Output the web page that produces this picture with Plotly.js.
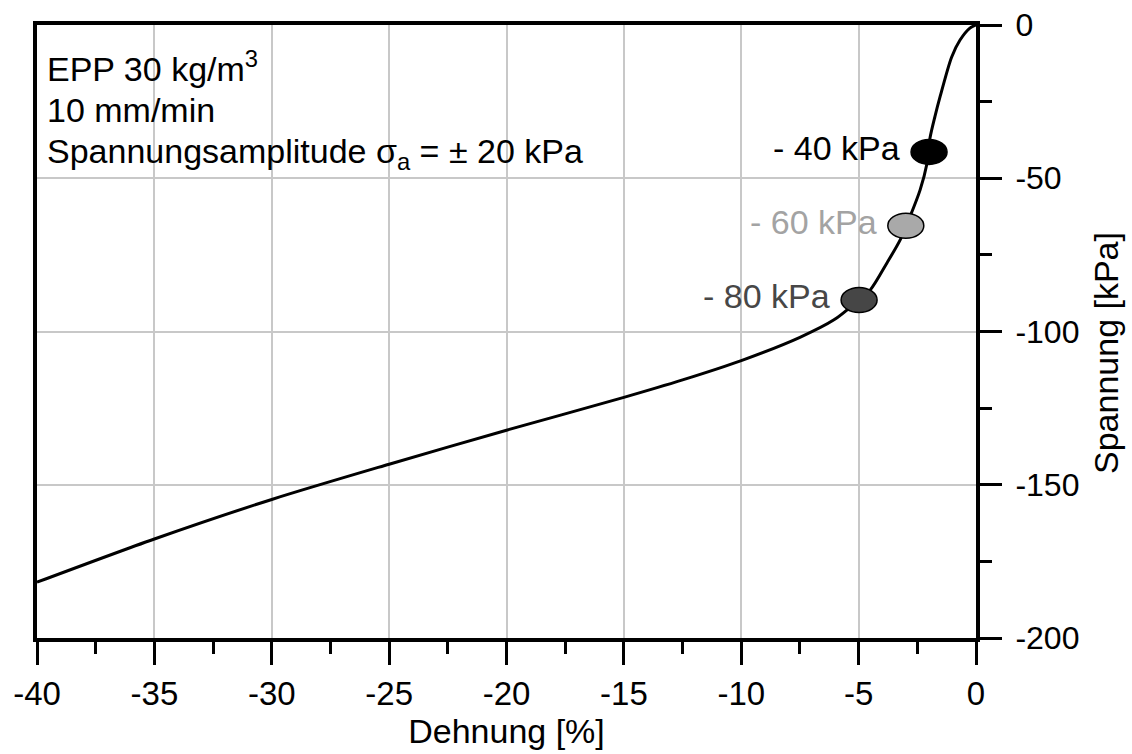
<!DOCTYPE html>
<html><head><meta charset="utf-8">
<script src="https://cdn.plot.ly/plotly-3.0.1.min.js"></script>
<style>html,body{margin:0;padding:0;background:#fff}#chart{width:1132px;height:754px}</style>
</head><body><div id="chart"></div>
<script>
// Data
const strainPct = [-40, -35, -30, -25, -20, -15, -12.5, -10, -7.5, -6.05, -5.08, -4.51, -3.80, -3.23, -2.81, -2.38, -2.10, -1.96, -1.75, -1.53, -1.04, -0.68, -0.26, 0];
const stressKPa = [-181.8, -167.7, -154.8, -143.3, -132.2, -121.5, -115.8, -109.5, -101.9, -96.2, -90.3, -86.5, -77.7, -70.1, -62.5, -53.8, -45.6, -36.9, -29.9, -23.4, -10.5, -4.9, -1.0, 0];

const markerStrain = [-2.0, -2.99, -4.98];
const markerStress = [-41.4, -65.5, -89.7];
const markerLabels = ['- 40 kPa', '- 60 kPa', '- 80 kPa'];
const markerFill = ['#000000', '#a9a9a9', '#464646'];
const labelColors = ['#000000', '#a3a3a3', '#474747'];

const xTickVals = [-40, -35, -30, -25, -20, -15, -10, -5, 0];
const yTickVals = [0, -50, -100, -150, -200];
const xTitle = 'Dehnung [%]';
const yTitle = 'Spannung [kPa]';
const infoLines = ['EPP 30 kg/m<sup>3</sup>', '10 mm/min', 'Spannungsamplitude σ<sub>a</sub> = ± 20 kPa'];

const FONT = 'Liberation Sans, Arial, sans-serif';
const W = 1132, H = 754;
const mar = {l: 37, r: 156, t: 25, b: 116};
const plotH = H - mar.t - mar.b;
const py = p => 1 - (p - mar.t) / plotH;   // pixel row -> paper y

const traces = [{
  x: strainPct, y: stressKPa, type: 'scatter', mode: 'lines',
  line: {color: '#000', width: 3, shape: 'spline', smoothing: 0.8},
  hoverinfo: 'skip', showlegend: false
}];

const shapes = markerStrain.map((mx, i) => ({
  type: 'circle', xref: 'x', yref: 'y', layer: 'above',
  xsizemode: 'pixel', ysizemode: 'pixel',
  xanchor: mx, yanchor: markerStress[i],
  x0: -18, x1: 18, y0: -12.5, y1: 12.5,
  fillcolor: markerFill[i], line: {color: '#000', width: 1.5}
}));

const annotations = [];
markerStrain.forEach((mx, i) => {
  annotations.push({
    x: mx, y: markerStress[i], xref: 'x', yref: 'y',
    text: markerLabels[i], showarrow: false,
    xanchor: 'right', yanchor: 'middle', xshift: -27, yshift: 4,
    font: {family: FONT, size: 34, color: labelColors[i]}
  });
});
const infoRows = [66, 110, 153];
infoLines.forEach((t, i) => {
  annotations.push({
    x: 0.009, y: py(infoRows[i]), xref: 'paper', yref: 'paper',
    text: t, showarrow: false, xanchor: 'left', yanchor: 'middle',
    font: {family: FONT, size: 34, color: '#000'}
  });
});
annotations.push({
  x: 1, y: py(353), xref: 'paper', yref: 'paper', xshift: 130,
  text: yTitle, textangle: -90, showarrow: false,
  xanchor: 'center', yanchor: 'middle',
  font: {family: FONT, size: 34, color: '#000'}
});

const layout = {
  width: W, height: H, margin: mar,
  paper_bgcolor: '#fff', plot_bgcolor: '#fff',
  font: {family: FONT, color: '#000'},
  showlegend: false,
  xaxis: {
    range: [-40, 0], tickvals: xTickVals, ticktext: xTickVals.map(String),
    ticks: 'outside', ticklen: 23, tickwidth: 3, tickcolor: '#000',
    showline: true, linewidth: 4, linecolor: '#000', mirror: true,
    showgrid: true, gridcolor: '#c8c8c8', gridwidth: 2, zeroline: false,
    tickfont: {family: FONT, size: 33, color: '#000'}, ticklabelstandoff: 0,
    minor: {dtick: 2.5, tick0: 0, ticks: 'outside', ticklen: 12, tickwidth: 3, tickcolor: '#000', showgrid: false},
    title: {text: xTitle, font: {family: FONT, size: 34, color: '#000'}, standoff: 7}
  },
  yaxis: {
    range: [-200, 0], side: 'right', tickvals: yTickVals, ticktext: yTickVals.map(String),
    ticks: 'outside', ticklen: 22, tickwidth: 3, tickcolor: '#000',
    showline: true, linewidth: 4, linecolor: '#000', mirror: true,
    showgrid: true, gridcolor: '#c8c8c8', gridwidth: 2, zeroline: false,
    tickfont: {family: FONT, size: 32, color: '#000'}, ticklabelstandoff: 7,
    minor: {dtick: 25, tick0: 0, ticks: 'outside', ticklen: 12, tickwidth: 3, tickcolor: '#000', showgrid: false}
  },
  shapes: shapes,
  annotations: annotations
};

Plotly.newPlot('chart', traces, layout, {displayModeBar: false, staticPlot: true});
</script>
</body></html>
